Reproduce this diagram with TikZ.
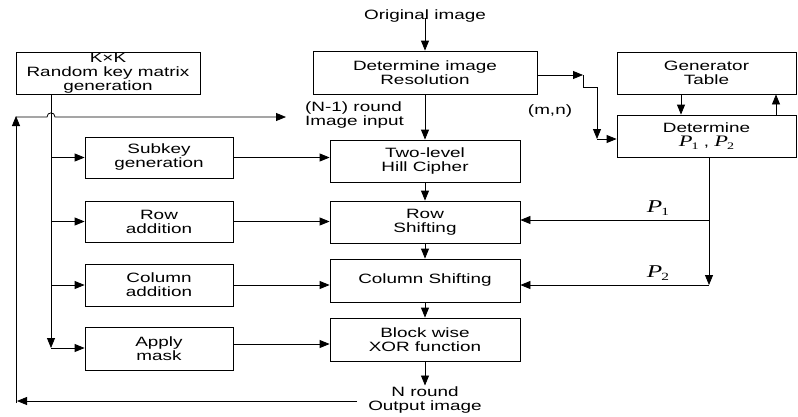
\documentclass[tikz,border=0pt]{standalone}
\usepackage{fontspec}
\setmainfont{Liberation Sans}[FakeStretch=1.4]
\newfontfamily\timesf{Liberation Serif}[FakeStretch=1.4]
\newcommand{\PP}[3]{{\timesf\fontsize{#1pt}{#1pt}\selectfont\itshape P}\kern-1pt\raisebox{-#3pt}{\timesf\fontsize{#2pt}{#2pt}\selectfont\upshape 1}}
\newcommand{\PPtwo}[3]{{\timesf\fontsize{#1pt}{#1pt}\selectfont\itshape P}\kern-1pt\raisebox{-#3pt}{\timesf\fontsize{#2pt}{#2pt}\selectfont\upshape 2}}
\usetikzlibrary{arrows.meta}
\begin{document}
\begin{tikzpicture}[x=1pt,y=-1pt,
  font=\fontsize{13.5pt}{14pt}\selectfont,
  box/.style={draw,line width=0.8pt,inner sep=0pt,align=center},
  cw/.style={box,minimum width=190pt},
  lw/.style={box,minimum width=148pt},
  lbl/.style={inner sep=0pt,align=center},
  arr/.style={line width=0.8pt,-{Triangle[length=10pt,width=8pt]}},
  ln/.style={line width=0.8pt}]
\useasboundingbox (0,0) rectangle (798,416);
% boxes
\node[box,minimum width=184pt,minimum height=42pt] (kk) at (108,73) {K×K\\Random key matrix\\generation};
\node[box,minimum width=224pt,minimum height=43pt] (res) at (425,72.5) {Determine image\\Resolution};
\node[box,minimum width=179pt,minimum height=42pt] (gen) at (706.5,73) {Generator\\Table};
\node[box,minimum width=179pt,minimum height=42pt] (det) at (706.5,136) {Determine\\\PP{16}{10}{3} , \PPtwo{16}{10}{3}};
\node[cw,minimum height=42pt] (hill) at (425,161) {Two-level\\Hill Cipher};
\node[cw,minimum height=42pt] (rowsh) at (425,222) {Row\\Shifting};
\node[cw,minimum height=43pt] (colsh) at (425,280.5) {Column Shifting};
\node[cw,minimum height=43pt] (xor) at (425,339.5) {Block wise\\XOR function};
\node[lw,minimum height=41pt] (sub) at (159,157.5) {Subkey\\generation};
\node[lw,minimum height=41pt] (rowadd) at (159,221.5) {Row\\addition};
\node[lw,minimum height=42pt] (coladd) at (159,285) {Column\\addition};
\node[lw,minimum height=43pt] (mask) at (159,348.5) {Apply\\mask};
% labels
\node[lbl] (orig) at (425,16) {Original image};
\node[lbl] (out) at (425,400) {N round\\Output image};
\node[lbl,align=left,anchor=west] (nm1) at (305,115) {(N-1) round\\Image input};
\node[lbl] (mn) at (550,111) {(m,n)};
\node[lbl] (p1) at (658,208) {\PP{18}{11}{3.5}};
\node[lbl] (p2) at (658,273) {\PPtwo{18}{11}{3.5}};
% coordinates
\coordinate (kkb) at (51,94);
\coordinate (kkend) at (51,348);
\coordinate (fbs) at (357,401);
\coordinate (fbe) at (17,401);
\coordinate (lb) at (16,403);
\coordinate (lt) at (16,116);
\coordinate (ha) at (16,117);
\coordinate (hb) at (47,117);
\coordinate (hc) at (55,117);
\coordinate (hd) at (286,117);
\coordinate (r1) at (res.east |- 0,75);
\coordinate (r2) at (583,75);
\coordinate (r3) at (583,87);
\coordinate (r4) at (597,87);
\coordinate (r5) at (597,139);
\coordinate (p2c) at (det.south |- 0,285);
% centre column
\draw[arr] ([yshift=4pt]orig.south) -- (res.north);
\draw[arr] (res.south) -- (hill.north);
\draw[arr] (hill.south) -- (rowsh.north);
\draw[arr] (rowsh.south) -- (colsh.north);
\draw[arr] (colsh.south) -- (xor.north);
\draw[arr] (xor.south) -- ([yshift=1pt]out.north);
% feedback
\draw[arr] (fbs) -- (fbe);
\draw[arr] (lb) -- (lt);
\draw[arr] (ha) -- (hb) .. controls (47,111.5) and (55,111.5) .. (hc) -- (hd);
% key distribution
\draw[arr] (kkb) -- (kkend);
\draw[arr] (kkb |- sub.west) -- (sub.west);
\draw[arr] (kkb |- rowadd.west) -- (rowadd.west);
\draw[arr] (kkb |- coladd.west) -- (coladd.west);
\draw[arr] (kkend) -- (mask.west |- kkend);
\draw[arr] (sub.east) -- (sub.east -| hill.west);
\draw[arr] (rowadd.east) -- (rowadd.east -| rowsh.west);
\draw[arr] (coladd.east) -- (coladd.east -| colsh.west);
\draw[arr] (mask.east |- 0,344) -- (xor.west |- 0,344);
% resolution to determine
\draw[arr] (r1) -- (r2);
\draw[arr] (r2) -- (r3) -- (r4) -- (r5);
\draw[arr] (r5) -- (det.west |- r5);
% generator table
\draw[arr] ([xshift=-25.5pt]gen.south) -- ([xshift=-25.5pt]det.north);
\draw[arr] ([xshift=69.5pt]det.north) -- ([xshift=69.5pt]gen.south);
% P1 P2
\draw[arr] ([xshift=2.5pt]det.south) -- ([xshift=2.5pt]p2c);
\draw[arr] ([xshift=2.5pt]det.south |- 0,220) -- (rowsh.east |- 0,220);
\draw[arr] ([xshift=2.5pt]p2c) -- (colsh.east |- p2c);
\end{tikzpicture}
\end{document}
